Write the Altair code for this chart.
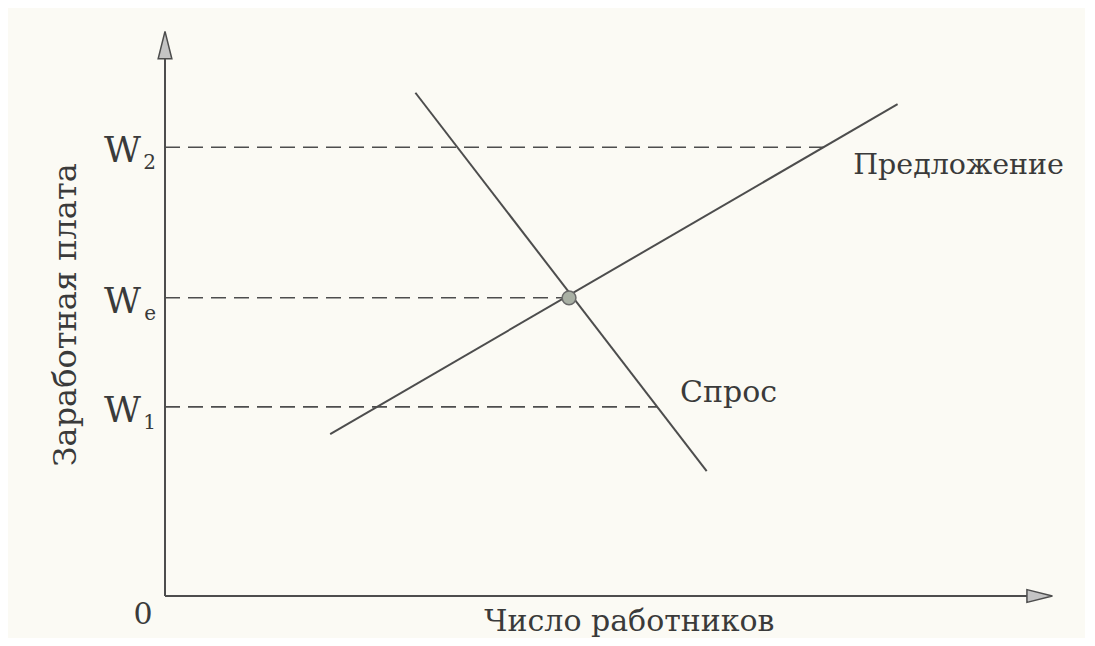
import altair as alt
import pandas as pd

# Data space: x = number of workers (0..100), y = wage (0..100)
demand_x = [28.2, 61.0]
demand_y = [88.6, 22.0]
supply_x = [18.6, 82.5]
supply_y = [28.5, 86.6]
eq_x = 45.5
wage_levels = ["W", "W", "W"]
wage_subs = ["2", "e", "1"]
wage_values = [79.0, 52.5, 33.3]
wage_line_end = [74.2, 45.5, 55.4]

FONT = "DejaVu Serif"
LINE = "#4d4d4d"
TXT = "#3a3a3a"

xs = alt.Scale(domain=[0, 100], nice=False, zero=False)
ys = alt.Scale(domain=[0, 100], nice=False, zero=False)
X = lambda f: alt.X(f, type="quantitative", scale=xs, axis=None)
Y = lambda f: alt.Y(f, type="quantitative", scale=ys, axis=None)

demand = pd.DataFrame({"x": demand_x, "y": demand_y})
supply = pd.DataFrame({"x": supply_x, "y": supply_y})
wages = pd.DataFrame({"x0": [0] * 3, "x1": wage_line_end, "y": wage_values,
                      "lab": wage_levels, "sub": wage_subs})
axes_df = pd.DataFrame({"x0": [0, 0], "x1": [0, 98.5], "y0": [0, 0], "y1": [97, 0]})
eq_df = pd.DataFrame({"x": [eq_x], "y": [wage_values[1]]})

dash = alt.Chart(wages).mark_rule(strokeDash=[15, 8], strokeWidth=1.6, color=LINE).encode(
    x=X("x0"), x2="x1", y=Y("y"))

ax_lines = alt.Chart(axes_df).mark_rule(strokeWidth=2, color=LINE).encode(
    x=X("x0"), x2="x1", y=Y("y0"), y2="y1")

arrow_up = alt.Chart(pd.DataFrame({"x": [0], "y": [97]})).mark_point(
    shape="M0,-1L0.5,1L-0.5,1Z", size=750, filled=True, fill="#c4c4c4",
    stroke=LINE, strokeWidth=1.5, opacity=1).encode(x=X("x"), y=Y("y"))
arrow_right = alt.Chart(pd.DataFrame({"x": [98.5], "y": [0]})).mark_point(
    shape="M1,0L-1,0.5L-1,-0.5Z", size=650, filled=True, fill="#c4c4c4",
    stroke=LINE, strokeWidth=1.5, opacity=1).encode(x=X("x"), y=Y("y"))

d_line = alt.Chart(demand).mark_line(color=LINE, strokeWidth=2).encode(x=X("x"), y=Y("y"))
s_line = alt.Chart(supply).mark_line(color=LINE, strokeWidth=2).encode(x=X("x"), y=Y("y"))

eq_pt = alt.Chart(eq_df).mark_point(shape="circle", size=190, filled=True,
    fill="#a9b0a4", stroke="#6a6a6a", strokeWidth=1.5, opacity=1).encode(x=X("x"), y=Y("y"))

w_txt = alt.Chart(wages).mark_text(font=FONT, fontSize=36, color=TXT, align="right",
    baseline="middle", dx=-24, dy=4).encode(x=X("x0"), y=Y("y"), text="lab:N")
sub_txt = alt.Chart(wages).mark_text(font=FONT, fontSize=20, color=TXT, align="right",
    baseline="middle", dx=-9, dy=16).encode(x=X("x0"), y=Y("y"), text="sub:N")

supply_label = pd.DataFrame({"x": [77.5], "y": [75.9], "t": ["Предложение"]})
demand_label = pd.DataFrame({"x": [58.0], "y": [35.7], "t": ["Спрос"]})
bottom_labels = pd.DataFrame({"x": [-2.48, 52.3], "y": [-3.35, -4.58],
                              "t": ["0", "Число работников"]})

lab_s = alt.Chart(supply_label).mark_text(font=FONT, fontSize=28.5, color=TXT,
    align="left", baseline="middle").encode(x=X("x"), y=Y("y"), text="t:N")
lab_d = alt.Chart(demand_label).mark_text(font=FONT, fontSize=30, color=TXT,
    align="left", baseline="middle").encode(x=X("x"), y=Y("y"), text="t:N")
lab_center = alt.Chart(bottom_labels).mark_text(font=FONT, fontSize=30, color=TXT,
    align="center", baseline="middle").encode(x=X("x"), y=Y("y"), text="t:N")

ytitle = alt.Chart(pd.DataFrame({"x": [-11.2], "y": [49.5], "t": ["Заработная  плата"]})).mark_text(
    font=FONT, fontSize=32, color=TXT, angle=270, align="center", baseline="middle").encode(
    x=X("x"), y=Y("y"), text="t:N")

chart = alt.layer(dash, ax_lines, d_line, s_line, eq_pt, arrow_up, arrow_right,
                  w_txt, sub_txt, lab_s, lab_d, lab_center, ytitle).properties(
    width=888, height=568,
    autosize=alt.AutoSizeParams(type="none"),
    padding={"left": 157, "top": 20, "right": 32, "bottom": 42},
    background="#fbfaf4",
).configure_view(stroke=None)

chart.save("out.html", embed_options={"renderer": "svg", "actions": False})
